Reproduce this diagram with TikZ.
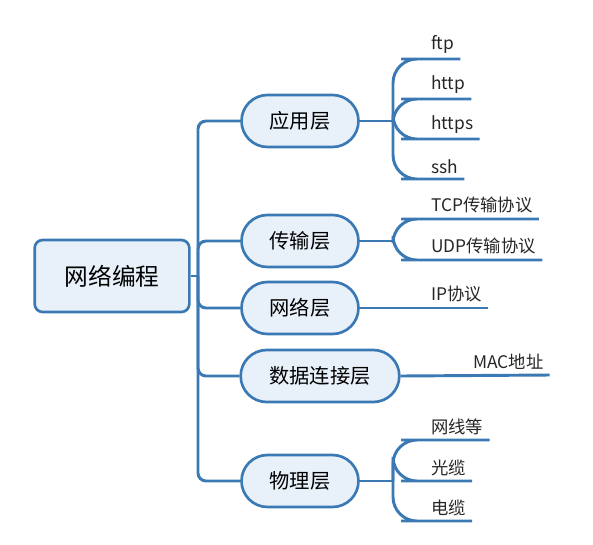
\documentclass[tikz,border=0pt]{standalone}
\usepackage{fontspec}
\setmainfont{Noto Sans CJK SC}
\definecolor{mapblue}{HTML}{3A79B4}
\definecolor{mapfill}{HTML}{E8F0F9}

\begin{document}
\begin{tikzpicture}[x=0.75pt,y=-0.75pt,
    link/.style={draw=mapblue, line width=2.2pt},
    root/.style={draw=mapblue, fill=mapfill, line width=2pt, rounded corners=6pt,
        minimum width=116pt, minimum height=54pt, font=\fontsize{17.8}{21}\selectfont},
    topic/.style={draw=mapblue, fill=mapfill, line width=2pt, rounded corners=19.5pt,
        minimum width=87.75pt, minimum height=39pt, font=\fontsize{15.2}{18}\selectfont},
    leaf/.style={anchor=south west, inner xsep=4.5pt, inner ysep=4pt,
        font=\fontsize{13}{15}\selectfont, text=black!85}]
    \useasboundingbox (0,0) rectangle (593,544);

    % Центральный узел
    \node[root] (root) at (112,276) {网络编程};
    \coordinate (trunk) at (198,276);
    \draw[link] (root.east) -- (trunk);

    % Уровни
    \node[topic] (app) at (300,121) {应用层};
    \node[topic] (trans) at (300,241) {传输层};
    \node[topic] (net) at (300,308) {网络层};
    \node[topic, minimum width=119pt] (dl) at (320,376) {数据连接层};
    \node[topic] (phy) at (300,481) {物理层};

    \foreach \t in {app,trans,net,dl,phy}
        \draw[link, rounded corners=6pt] (trunk) |- (\t.west);

    % Прикладной уровень
    \coordinate (japp) at (393,121);
    \draw[link] (app.east) -- (japp);
    \foreach \n/\y/\txt in {ftp/59/ftp, http/99/http, https/139/https, ssh/179/ssh} {
        \node[leaf] (\n) at (425,\y) {\txt};
        \draw[link, rounded corners=18pt] (japp) |- (\n.south west) -- (\n.south east);
    }

    % Транспортный уровень
    \coordinate (jtrans) at (393,241);
    \draw[link] (trans.east) -- (jtrans);
    \foreach \n/\y/\txt in {tcp/219/TCP传输协议, udp/260/UDP传输协议} {
        \node[leaf] (\n) at (425,\y) {\txt};
        \draw[link, rounded corners=18pt] (jtrans) |- (\n.south west) -- (\n.south east);
    }

    % Сетевой уровень
    \node[leaf] (ip) at (425,308) {IP协议};
    \draw[link] (net.east) -- (ip.south east);

    % Канальный уровень
    \node[leaf] (mac) at (467,375) {MAC地址};
    \draw[link] (dl.east) -- (mac.south east);

    % Физический уровень
    \coordinate (jphy) at (393,481);
    \draw[link] (phy.east) -- (jphy);
    \foreach \n/\y/\txt in {wire/440/网线等, fiber/481/光缆, cable/521/电缆} {
        \node[leaf] (\n) at (425,\y) {\txt};
        \draw[link, rounded corners=18pt] (jphy) |- (\n.south west) -- (\n.south east);
    }
\end{tikzpicture}
\end{document}
